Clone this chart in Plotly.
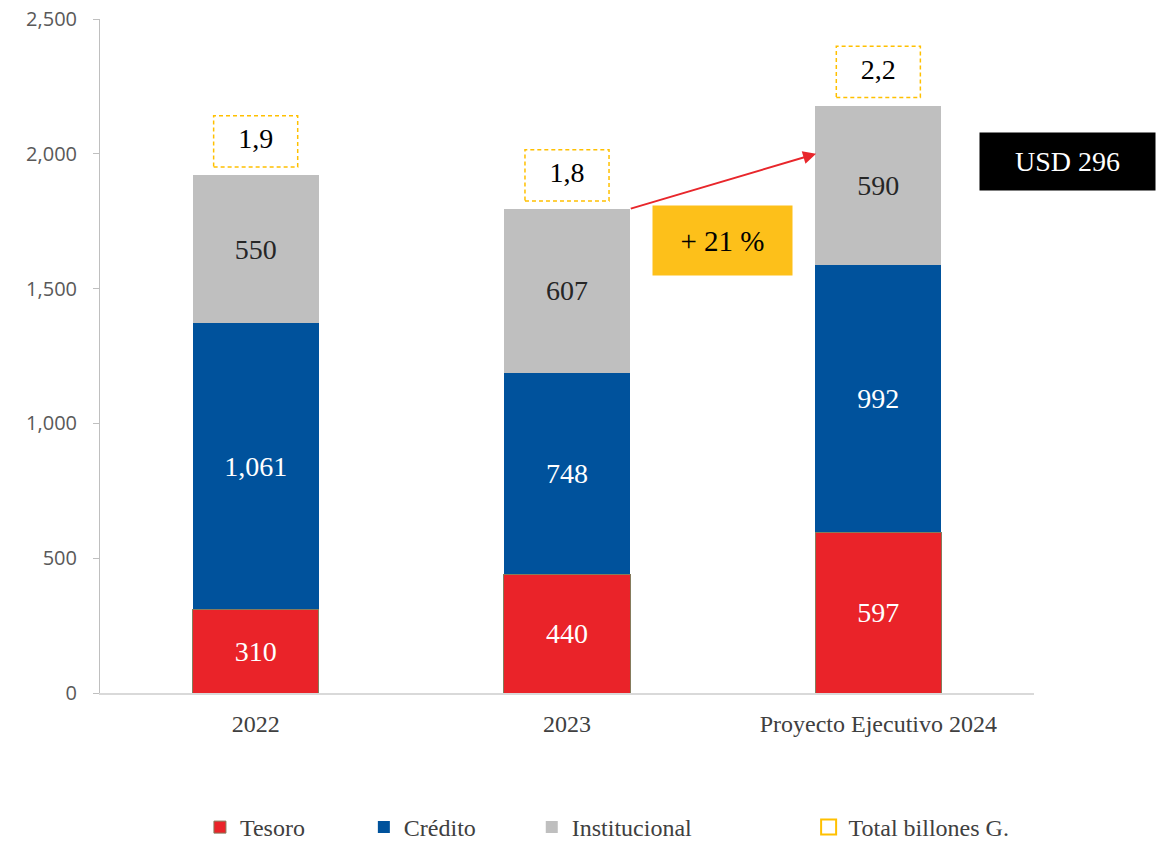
import plotly.graph_objects as go

categories = ["2022", "2023", "Proyecto Ejecutivo 2024"]
tesoro = [310, 440, 597]
credito = [1061, 748, 992]
institucional = [550, 607, 590]
total_labels = ["1,9", "1,8", "2,2"]
growth_label = "+ 21 %"
usd_label = "USD 296"
y_ticks = [0, 500, 1000, 1500, 2000, 2500]

totals = [a + b + c for a, b, c in zip(tesoro, credito, institucional)]

SERIF = "Liberation Serif"
SANS = "Open Sans"
RED = "#EA2329"
BLUE = "#00529C"
GRAY = "#BFBFBF"
ORANGE = "#FFC000"

fig = go.Figure()

fig.add_trace(go.Bar(
    name="Tesoro", x=categories, y=tesoro, marker=dict(color=RED, line=dict(color="#857B5C", width=1)),
    texttemplate="%{y:,}", textposition="inside", insidetextanchor="middle", textangle=0,
    textfont=dict(family=SERIF, size=28, color="white"), legend="legend",
))
fig.add_trace(go.Bar(
    name="Crédito", x=categories, y=credito, marker=dict(color=BLUE, line=dict(width=0)),
    texttemplate="%{y:,}", textposition="inside", insidetextanchor="middle", textangle=0,
    textfont=dict(family=SERIF, size=28, color="white"), legend="legend2",
))
fig.add_trace(go.Bar(
    name="Institucional", x=categories, y=institucional, marker=dict(color=GRAY, line=dict(width=0)),
    texttemplate="%{y:,}", textposition="inside", insidetextanchor="middle", textangle=0,
    textfont=dict(family=SERIF, size=28, color="#262626"), legend="legend3",
))

# total labels above bars
fig.add_trace(go.Scatter(
    x=categories, y=[t + 125 for t in totals], mode="text", text=total_labels,
    textposition="middle center", textfont=dict(family=SERIF, size=28, color="black"),
    showlegend=False, hoverinfo="skip", cliponaxis=False,
))
# legend entry for totals
fig.add_trace(go.Scatter(
    name="Total billones G.", x=[None], y=[None], mode="markers",
    marker=dict(symbol="square-open", size=15, color=ORANGE, line=dict(width=2, color=ORANGE)),
    legend="legend4",
))

shapes = []
for i, t in enumerate(totals):
    shapes.append(dict(
        type="rect", xref="x", yref="y", x0=i - 0.135, x1=i + 0.135, y0=t + 30, y1=t + 220,
        line=dict(color=ORANGE, width=1.5, dash="4px,3px"), fillcolor="rgba(0,0,0,0)", layer="above",
    ))

annotations = [
    dict(x=2 - 0.2, y=2000, xref="x", yref="y", ax=1 + 0.2, ay=totals[1], axref="x", ayref="y",
         showarrow=True, arrowhead=2, arrowsize=1.3, arrowwidth=2, arrowcolor="#E8262B", text=""),
    dict(x=1.5, y=1680, xref="x", yref="y", text=growth_label, showarrow=False,
         xanchor="center", yanchor="middle",
         bgcolor="#FDC01A", width=139, height=69, borderpad=0,
         font=dict(family=SERIF, size=29, color="black")),
    dict(x=1.0364, y=0.7886, xref="paper", yref="paper", text=usd_label, showarrow=False,
         xanchor="center", yanchor="middle",
         bgcolor="black", width=175, height=57, borderpad=0,
         font=dict(family=SERIF, size=28, color="white")),
]

legend_font = dict(family=SERIF, size=24, color="#404040")
def leg(xpx):
    return dict(x=(xpx - 100) / 934.5, y=(693 - 850) / 674, xanchor="left", yanchor="bottom",
                orientation="h", font=legend_font, bgcolor="rgba(0,0,0,0)", borderwidth=0)

fig.update_layout(
    width=1156, height=845,
    margin=dict(l=100, r=121.5, t=19, b=152, autoexpand=False),
    paper_bgcolor="white", plot_bgcolor="white",
    barmode="stack", bargap=0.595,
    shapes=shapes, annotations=annotations,
    legend=leg(200), legend2=leg(364), legend3=leg(532), legend4=leg(809),
    xaxis=dict(
        type="category", range=[-0.5, 2.5], showline=True, linecolor="#D9D9D9", linewidth=2,
        ticks="", showgrid=False, zeroline=False, automargin=False,
        tickfont=dict(family=SERIF, size=24, color="#404040"), ticklabelstandoff=8,
    ),
    yaxis=dict(
        range=[0, 2500], tickvals=y_ticks, tickformat=",", showline=True, linecolor="#BFBFBF",
        linewidth=1, ticks="outside", ticklen=6, tickcolor="#BFBFBF", showgrid=False,
        zeroline=False, automargin=False, tickfont=dict(family=SANS, size=20, color="#595959"),
        ticklabelstandoff=12,
    ),
    showlegend=True,
)

fig.write_html("out.html", config={"displayModeBar": False},
               post_script="document.body.style.margin='0px';document.body.style.overflow='hidden';")
